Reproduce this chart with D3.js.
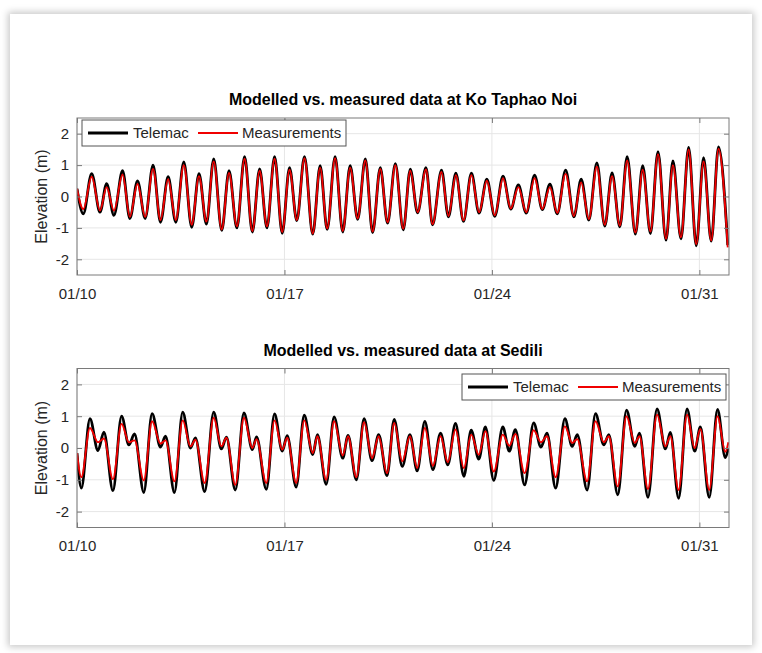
<!DOCTYPE html>
<html>
<head>
<meta charset="utf-8">
<script src="https://cdn.jsdelivr.net/npm/d3@7"></script>
<style>
  body { margin: 0; background: #fff; }
  #card { position: absolute; left: 10px; top: 14px; width: 742px; height: 631px;
          background: #fff; box-shadow: 0 0 7px 2px rgba(0,0,0,0.22); }
  svg { position: absolute; left: 0; top: 0; font-family: "Liberation Sans", Arial, sans-serif; }
</style>
</head>
<body>
<div id="card"></div>
<svg id="chart" width="762" height="653"></svg>
<script>
// hours after 01/10 00:00 of each high / low water
const kohHours = [0, 5.1, 11.9, 18.6, 24.0, 29.9, 36.9, 42.8, 49.0, 55.2, 61.6, 67.6, 73.8, 80.0,
  86.5, 92.9, 98.8, 104.8, 110.7, 117.2, 123.1, 129.5, 135.7, 142.0, 147.9, 153.8, 160.0, 166.2,
  172.1, 178.0, 184.2, 190.9, 196.9, 202.6, 209.0, 215.2, 221.2, 227.3, 233.5, 239.4, 245.6, 251.5,
  257.8, 264.2, 269.9, 275.8, 282.6, 287.9, 295.2, 300.8, 306.8, 313.0, 319.4, 325.6, 331.9, 338.3,
  345.0, 351.3, 357.4, 363.8, 370.6, 376.8, 383.0, 388.9, 395.7, 402.4, 408.3, 414.5, 421.0, 427.4,
  433.3, 439.6, 445.5, 452.2, 458.1, 464.4, 470.5, 477.0, 482.6, 489.1, 495.3, 501.5, 507.4, 513.6,
  519.5, 527.0];
const kohTelemac = [0.25, -0.55, 0.73, -0.5, 0.41, -0.6, 0.82, -0.7, 0.5, -0.7, 1.0, -0.82, 0.63, -0.82,
  1.1, -0.98, 0.73, -0.88, 1.2, -1.08, 0.82, -1.0, 1.27, -1.13, 0.88, -1.0, 1.27, -1.17,
  0.92, -0.77, 1.27, -1.2, 0.98, -1.05, 1.27, -1.13, 0.98, -0.73, 1.2, -1.15, 0.92, -0.85,
  1.05, -1.06, 0.87, -0.52, 0.92, -0.9, 0.84, -0.65, 0.74, -0.79, 0.74, -0.53, 0.55, -0.63,
  0.65, -0.4, 0.37, -0.53, 0.68, -0.42, 0.39, -0.55, 0.84, -0.65, 0.55, -0.75, 1.07, -0.94,
  0.75, -0.97, 1.27, -1.2, 0.98, -1.18, 1.43, -1.39, 1.13, -1.35, 1.56, -1.57, 1.24, -1.42,
  1.58, -1.55];
const kohMeasured = [0.25, -0.4, 0.63, -0.45, 0.3, -0.45, 0.7, -0.65, 0.4, -0.65, 0.88, -0.75, 0.55, -0.75,
  1.0, -0.9, 0.65, -0.8, 1.12, -1.05, 0.75, -0.95, 1.2, -1.1, 0.82, -0.95, 1.2, -1.13,
  0.85, -0.75, 1.22, -1.18, 0.92, -1.02, 1.22, -1.1, 0.92, -0.7, 1.15, -1.12, 0.88, -0.82,
  1.0, -1.03, 0.82, -0.5, 0.86, -0.88, 0.78, -0.62, 0.68, -0.76, 0.68, -0.5, 0.5, -0.6,
  0.58, -0.38, 0.3, -0.5, 0.58, -0.4, 0.3, -0.52, 0.72, -0.62, 0.45, -0.72, 0.95, -0.9,
  0.65, -0.93, 1.15, -1.15, 0.85, -1.12, 1.35, -1.35, 1.0, -1.3, 1.5, -1.52, 1.12, -1.4,
  1.52, -1.62];

const sedHours = [0, 3.5, 10.5, 17.0, 21.8, 29.1, 36.1, 42.0, 46.6, 54.1, 60.8, 67.6, 71.7, 78.9,
  85.6, 91.9, 95.9, 103.4, 110.7, 116.9, 121.0, 128.2, 135.2, 142.0, 145.4, 153.3, 160.0, 166.2,
  170.2, 177.5, 184.0, 190.9, 194.7, 201.8, 208.2, 215.2, 219.5, 226.2, 232.5, 238.9, 244.3, 251.0,
  256.9, 263.4, 269.6, 275.5, 281.7, 288.2, 294.4, 300.3, 306.5, 313.3, 319.2, 325.4, 330.7, 337.5,
  344.8, 350.1, 355.0, 362.5, 369.8, 375.7, 380.6, 387.6, 395.1, 401.0, 405.1, 413.1, 419.9, 426.6,
  430.7, 437.9, 445.0, 451.7, 455.5, 462.4, 469.7, 476.5, 480.5, 487.2, 494.0, 500.2, 504.8, 512.0,
  518.7, 525.0, 527.5];
const sedTelemac = [-0.16, -1.26, 0.92, -0.08, 0.5, -1.34, 1.0, 0.1, 0.44, -1.4, 1.08, 0.03, 0.37, -1.4,
  1.13, 0.0, 0.32, -1.37, 1.13, -0.03, 0.34, -1.32, 1.1, -0.05, 0.35, -1.3, 1.07, -0.1,
  0.39, -1.23, 1.03, -0.21, 0.42, -1.14, 0.98, -0.32, 0.4, -1.0, 0.92, -0.4, 0.42, -0.87,
  0.9, -0.58, 0.42, -0.72, 0.84, -0.68, 0.47, -0.53, 0.77, -0.89, 0.56, -0.35, 0.66, -1.02,
  0.66, -0.1, 0.58, -1.16, 0.79, 0.03, 0.47, -1.26, 0.92, 0.05, 0.42, -1.32, 1.08, 0.1,
  0.42, -1.47, 1.19, 0.05, 0.47, -1.55, 1.23, -0.03, 0.49, -1.58, 1.23, -0.1, 0.66, -1.55,
  1.21, -0.3, 0.0];
const sedMeasured = [-0.16, -0.92, 0.63, 0.18, 0.3, -0.98, 0.76, 0.18, 0.24, -1.02, 0.84, 0.14, 0.24, -1.05,
  0.87, 0.05, 0.26, -1.1, 0.95, 0.05, 0.32, -1.16, 0.95, 0.0, 0.28, -1.1, 0.87, -0.05,
  0.32, -1.1, 0.87, -0.16, 0.37, -1.0, 0.84, -0.24, 0.37, -0.92, 0.81, -0.32, 0.37, -0.79,
  0.79, -0.42, 0.37, -0.63, 0.63, -0.56, 0.37, -0.45, 0.58, -0.63, 0.42, -0.21, 0.53, -0.74,
  0.42, 0.07, 0.44, -0.79, 0.56, 0.18, 0.37, -0.92, 0.68, 0.16, 0.28, -1.05, 0.84, 0.18,
  0.37, -1.21, 1.0, 0.16, 0.37, -1.29, 1.05, 0.05, 0.37, -1.32, 1.05, 0.0, 0.6, -1.32,
  1.0, -0.12, 0.18];

const tickDays = ['01/10', '01/17', '01/24', '01/31'];
const yTicks = [-2, -1, 0, 1, 2];
const seriesNames = ['Telemac', 'Measurements'];

const t0 = Date.UTC(2020, 0, 10);
const toDate = h => new Date(t0 + h * 3600e3);
const parseDay = s => new Date(Date.UTC(2020, +s.slice(0, 2) - 1, +s.slice(3)));

const svg = d3.select('#chart');
const x = d3.scaleUtc().domain([toDate(0), toDate(22 * 24)]).range([77, 729]);

const panels = [
  { title: 'Modelled vs. measured data at Ko Taphao Noi', hours: kohHours, model: kohTelemac,
    meas: kohMeasured, top: 118, bottom: 275, legX: 82, legY: 120 },
  { title: 'Modelled vs. measured data at Sedili', hours: sedHours, model: sedTelemac,
    meas: sedMeasured, top: 368.5, bottom: 527.5, legX: 462, legY: 374 }
];

const axisGray = '#7a7a7a', textGray = '#262626';

panels.forEach((p, i) => {
  const y = d3.scaleLinear().domain([-2.5, 2.5]).range([p.bottom, p.top]);
  const g = svg.append('g');
  const [x0, x1] = x.range();

  // grid
  g.append('g').selectAll('line').data(yTicks).join('line')
    .attr('x1', x0).attr('x2', x1).attr('y1', d => y(d)).attr('y2', d => y(d))
    .attr('stroke', '#e6e6e6');
  g.append('g').selectAll('line').data(tickDays.map(parseDay)).join('line')
    .attr('x1', d => x(d)).attr('x2', d => x(d)).attr('y1', p.top).attr('y2', p.bottom)
    .attr('stroke', '#e6e6e6');

  // series
  const clipId = 'clip' + i;
  g.append('clipPath').attr('id', clipId).append('rect')
    .attr('x', x0).attr('y', p.top).attr('width', x1 - x0).attr('height', p.bottom - p.top);
  const line = vals => d3.line()
    .x((d, k) => x(toDate(p.hours[k])))
    .y(d => y(d))
    .curve(d3.curveMonotoneX)(vals);
  const plot = g.append('g').attr('clip-path', `url(#${clipId})`);
  plot.append('path').attr('d', line(p.model)).attr('fill', 'none')
    .attr('stroke', '#000').attr('stroke-width', 2.8).attr('stroke-linejoin', 'round');
  plot.append('path').attr('d', line(p.meas)).attr('fill', 'none')
    .attr('stroke', '#f00000').attr('stroke-width', 1.9).attr('stroke-linejoin', 'round');

  // axes with inward ticks
  const fmt = d3.utcFormat('%m/%d');
  const styleAxis = sel => {
    sel.select('.domain').remove();
    sel.selectAll('line').attr('stroke', axisGray);
    sel.selectAll('text').attr('fill', textGray).style('font-size', '15px');
  };
  g.append('g').attr('transform', `translate(0,${p.bottom})`)
    .call(d3.axisBottom(x).tickValues(tickDays.map(parseDay)).tickFormat(fmt).tickSize(-5).tickPadding(13))
    .call(styleAxis);
  g.append('g').attr('transform', `translate(0,${p.top})`)
    .call(d3.axisTop(x).tickValues(tickDays.map(parseDay)).tickFormat('').tickSize(-5))
    .call(styleAxis);
  g.append('g').attr('transform', `translate(${x0},0)`)
    .call(d3.axisLeft(y).tickValues(yTicks).tickFormat(d => String(d)).tickSize(-5).tickPadding(8))
    .call(styleAxis);
  g.append('g').attr('transform', `translate(${x1},0)`)
    .call(d3.axisRight(y).tickValues(yTicks).tickFormat('').tickSize(-5))
    .call(styleAxis);
  g.selectAll('.tick text').attr('font-family', null);

  g.append('rect').attr('x', x0).attr('y', p.top).attr('width', x1 - x0).attr('height', p.bottom - p.top)
    .attr('fill', 'none').attr('stroke', axisGray);

  // labels
  g.append('text').attr('x', (x0 + x1) / 2).attr('y', p.top - 13)
    .attr('text-anchor', 'middle').attr('font-weight', 'bold').attr('font-size', 16)
    .attr('fill', '#000').text(p.title);
  g.append('text').attr('transform', `translate(47,${(p.top + p.bottom) / 2}) rotate(-90)`)
    .attr('text-anchor', 'middle').attr('font-size', 16).attr('fill', textGray)
    .text('Elevation (m)');

  // legend
  const leg = g.append('g').attr('transform', `translate(${p.legX},${p.legY})`);
  leg.append('rect').attr('width', 264).attr('height', 26)
    .attr('fill', '#fff').attr('stroke', '#555');
  const items = [
    { name: seriesNames[0], color: '#000', w: 2.8, lx: 6, tx: 51 },
    { name: seriesNames[1], color: '#f00000', w: 1.9, lx: 116, tx: 160 }
  ];
  items.forEach(it => {
    leg.append('line').attr('x1', it.lx).attr('x2', it.lx + 40).attr('y1', 13).attr('y2', 13)
      .attr('stroke', it.color).attr('stroke-width', it.w);
    leg.append('text').attr('x', it.tx).attr('y', 18).attr('font-size', 15)
      .attr('fill', textGray).text(it.name);
  });
});
</script>
</body>
</html>
